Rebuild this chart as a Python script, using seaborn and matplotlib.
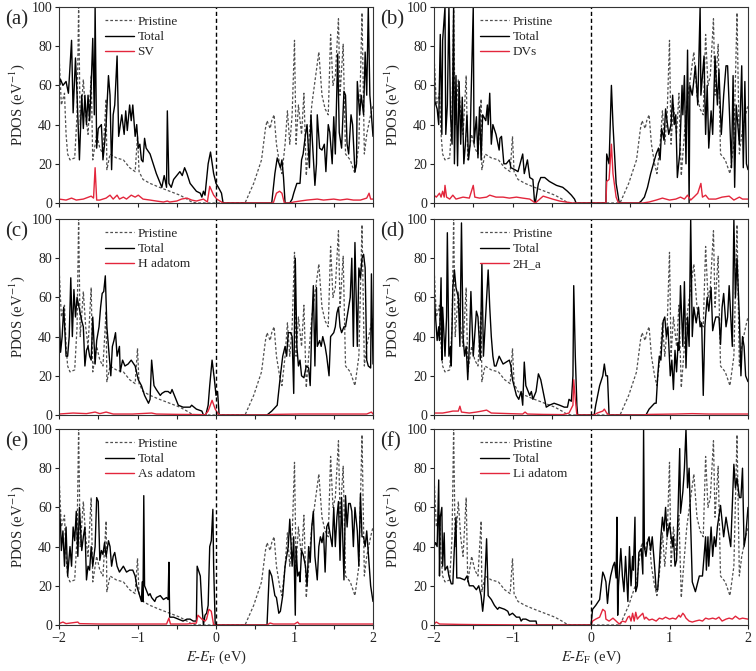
import matplotlib
matplotlib.use("Agg")
import matplotlib.pyplot as plt
import seaborn as sns

# energies (eV) and PDOS (1/eV)
pristine_e = [-2.00, -1.97, -1.93, -1.91, -1.89, -1.86, -1.80, -1.77, -1.75, -1.73, -1.69, -1.66, -1.63, -1.59, -1.57, -1.52, -1.48, -1.44, -1.40, -1.39, -1.35, -1.27, -1.18, -1.10, -1.03, -1.00, -0.98, -0.93, -0.84, -0.72, -0.59, -0.46, -0.37, -0.31, -0.25, 0.37, 0.48, 0.58, 0.63, 0.65, 0.69, 0.71, 0.74, 0.77, 0.81, 0.84, 0.88, 0.91, 0.94, 0.97, 1.00, 1.02, 1.05, 1.09, 1.12, 1.15, 1.18, 1.22, 1.31, 1.35, 1.39, 1.43, 1.46, 1.49, 1.52, 1.56, 1.58, 1.62, 1.65, 1.71, 1.77, 1.82, 1.86, 1.89, 1.92, 1.97, 2.00]
pristine_dos = [76, 50, 56, 35, 25, 22, 23, 45, 100, 40, 63, 45, 35, 65, 22, 35, 28, 25, 53, 17, 25, 23, 22, 18, 16, 34, 16, 12, 10, 8, 6, 4, 2, 0.5, 0, 0, 10, 22, 38, 42, 38, 42, 45, 30, 20, 15, 30, 47, 30, 45, 83, 30, 50, 35, 56, 14, 30, 50, 77, 55, 48, 45, 86, 60, 65, 94, 55, 81, 25, 22, 15, 30, 97, 25, 35, 45, 50]

a_total_e = [-2.00, -1.98, -1.95, -1.91, -1.88, -1.84, -1.82, -1.79, -1.77, -1.74, -1.71, -1.69, -1.67, -1.65, -1.63, -1.61, -1.59, -1.57, -1.55, -1.54, -1.52, -1.50, -1.46, -1.44, -1.42, -1.40, -1.37, -1.35, -1.33, -1.31, -1.29, -1.26, -1.24, -1.20, -1.17, -1.15, -1.13, -1.10, -1.08, -1.06, -1.03, -1.01, -0.99, -0.97, -0.95, -0.93, -0.91, -0.89, -0.84, -0.80, -0.76, -0.71, -0.69, -0.66, -0.63, -0.62, -0.60, -0.57, -0.54, -0.50, -0.46, -0.43, -0.40, -0.37, -0.33, -0.29, -0.25, -0.20, -0.18, -0.16, -0.14, -0.10, -0.07, -0.03, 0.00, 0.03, 0.07, 0.09, 0.71, 0.75, 0.78, 0.82, 0.84, 0.86, 0.88, 0.94, 0.97, 0.99, 1.03, 1.07, 1.09, 1.11, 1.14, 1.16, 1.19, 1.21, 1.23, 1.26, 1.28, 1.29, 1.32, 1.35, 1.38, 1.40, 1.43, 1.45, 1.48, 1.50, 1.52, 1.55, 1.57, 1.60, 1.63, 1.65, 1.67, 1.69, 1.72, 1.74, 1.77, 1.79, 1.80, 1.83, 1.85, 1.88, 1.90, 1.92, 1.94, 1.96, 1.97, 2.00]
a_total_dos = [60, 63, 60, 62, 56, 83, 46, 74, 55, 22, 55, 38, 55, 40, 55, 42, 60, 84, 45, 100, 28, 38, 40, 22, 30, 40, 65, 55, 17, 45, 50, 75, 34, 45, 35, 47, 37, 50, 42, 50, 34, 40, 28, 30, 22, 21, 33, 28, 25, 20, 15, 10, 8, 14, 8, 47, 10, 8, 12, 14, 16, 14, 18, 15, 10, 8, 6, 5, 3, 6, 4, 20, 26, 15, 10, 8, 5, 0, 0, 15, 23, 18, 22, 13, 0, 0, 2, 5, 10, 10, 22, 25, 35, 40, 18, 45, 30, 9, 20, 45, 28, 27, 30, 16, 40, 36, 20, 44, 25, 76, 36, 28, 57, 55, 30, 25, 45, 40, 16, 20, 62, 45, 55, 45, 77, 55, 100, 55, 50, 34]
a_sv_e = [-2.00, -1.91, -1.84, -1.78, -1.69, -1.59, -1.56, -1.54, -1.52, -1.48, -1.40, -1.35, -1.31, -1.26, -1.23, -1.18, -1.14, -1.08, -1.03, -0.99, -0.93, -0.84, -0.76, -0.67, -0.62, -0.59, -0.50, -0.44, -0.37, -0.31, -0.25, -0.16, -0.11, -0.08, -0.03, 0.01, 0.05, 0.09, 0.73, 0.77, 0.81, 0.84, 0.87, 0.94, 0.99, 1.07, 1.16, 1.29, 1.37, 1.50, 1.58, 1.67, 1.75, 1.84, 1.92, 1.95, 1.97, 2.00]
a_sv_dos = [2, 1.5, 2.5, 1.5, 2, 3.5, 2.5, 18, 1.5, 1.5, 2.5, 4, 2, 4, 2, 3, 2, 4, 3, 4, 2, 1.5, 1, 0.5, 1, 0.5, 1, 2, 2.5, 1.5, 1, 2, 0.5, 8.5, 4, 2, 1, 0, 0, 5, 6, 5, 0, 0, 0.5, 1, 1.5, 2, 1.5, 2, 1.5, 2, 1.5, 1.5, 2.5, 5, 2, 2]

b_total_e = [-2.00, -1.99, -1.96, -1.94, -1.92, -1.90, -1.89, -1.86, -1.85, -1.83, -1.81, -1.79, -1.77, -1.75, -1.74, -1.72, -1.70, -1.68, -1.66, -1.64, -1.62, -1.60, -1.58, -1.56, -1.54, -1.53, -1.50, -1.49, -1.46, -1.44, -1.42, -1.40, -1.38, -1.34, -1.32, -1.31, -1.29, -1.27, -1.25, -1.21, -1.17, -1.16, -1.14, -1.11, -1.08, -1.04, -1.02, -0.97, -0.93, -0.87, -0.85, -0.81, -0.78, -0.74, -0.72, -0.71, -0.69, -0.67, -0.64, -0.59, -0.53, -0.44, -0.36, -0.30, -0.25, -0.21, -0.19, 0.19, 0.20, 0.23, 0.26, 0.28, 0.32, 0.36, 0.61, 0.64, 0.68, 0.72, 0.76, 0.83, 0.86, 0.88, 0.90, 0.93, 0.95, 0.99, 1.02, 1.04, 1.06, 1.08, 1.10, 1.13, 1.16, 1.17, 1.19, 1.21, 1.23, 1.25, 1.26, 1.29, 1.33, 1.36, 1.39, 1.40, 1.44, 1.46, 1.48, 1.50, 1.53, 1.55, 1.58, 1.61, 1.63, 1.66, 1.69, 1.72, 1.74, 1.76, 1.79, 1.81, 1.83, 1.85, 1.89, 1.92, 1.94, 1.96, 1.98, 2.00]
b_total_dos = [80, 52, 48, 40, 86, 35, 83, 100, 35, 50, 100, 45, 30, 100, 20, 65, 19, 62, 30, 54, 20, 30, 45, 22, 30, 50, 100, 30, 44, 23, 49, 22, 45, 42, 50, 40, 56, 30, 40, 35, 27, 33, 34, 20, 20, 22, 18, 17, 16, 25, 15, 22, 13, 12, 1, 0, 5, 10, 13, 13, 11, 9, 8, 6, 4, 2, 0, 0, 25, 20, 60, 40, 10, 0, 0, 1, 3, 8, 15, 25, 28, 22, 38, 32, 48, 35, 40, 55, 40, 45, 13, 25, 60, 45, 65, 20, 78, 0, 60, 55, 70, 50, 100, 55, 75, 35, 60, 28, 47, 35, 75, 50, 68, 35, 55, 70, 70, 50, 18, 65, 8, 50, 30, 70, 18, 62, 20, 17]
b_dv_e = [-2.00, -1.97, -1.93, -1.91, -1.89, -1.87, -1.86, -1.84, -1.80, -1.76, -1.72, -1.63, -1.55, -1.50, -1.48, -1.42, -1.33, -1.29, -1.21, -1.12, -1.04, -0.95, -0.87, -0.78, -0.71, -0.68, -0.61, -0.57, -0.49, -0.40, -0.32, -0.23, 0.19, 0.20, 0.23, 0.26, 0.28, 0.32, 0.35, 0.66, 0.74, 0.83, 0.91, 1.00, 1.08, 1.14, 1.19, 1.23, 1.27, 1.31, 1.36, 1.40, 1.42, 1.46, 1.50, 1.59, 1.67, 1.76, 1.82, 1.89, 1.93, 2.00]
b_dv_dos = [4, 3, 5, 3, 6, 3, 9, 3, 2, 4, 2, 3, 2.5, 9, 3, 2.5, 3, 4, 3, 3, 2.5, 3, 2.5, 2, 0, 1, 3.5, 3, 2, 1, 0.5, 0, 0, 11, 12, 30, 15, 3, 0, 0, 0.5, 1.5, 2.5, 1.5, 2, 3, 2, 4, 1.5, 3, 5, 10, 3, 4, 2, 2, 3, 3.5, 1.5, 3, 2, 2]

c_total_e = [-2.00, -1.98, -1.96, -1.94, -1.91, -1.89, -1.87, -1.85, -1.83, -1.81, -1.79, -1.77, -1.75, -1.71, -1.69, -1.67, -1.65, -1.63, -1.61, -1.59, -1.57, -1.54, -1.52, -1.49, -1.47, -1.45, -1.43, -1.41, -1.39, -1.36, -1.34, -1.32, -1.30, -1.28, -1.26, -1.23, -1.22, -1.19, -1.16, -1.12, -1.08, -1.03, -0.99, -0.95, -0.91, -0.86, -0.84, -0.82, -0.79, -0.76, -0.71, -0.69, -0.65, -0.61, -0.58, -0.56, -0.52, -0.48, -0.42, -0.33, -0.31, -0.25, -0.18, -0.16, -0.13, -0.10, -0.08, -0.05, -0.02, 0.00, 0.02, 0.04, 0.65, 0.71, 0.78, 0.82, 0.85, 0.88, 0.90, 0.92, 0.95, 0.97, 0.99, 1.01, 1.03, 1.05, 1.07, 1.09, 1.12, 1.15, 1.18, 1.20, 1.22, 1.24, 1.26, 1.28, 1.29, 1.32, 1.34, 1.36, 1.39, 1.41, 1.44, 1.46, 1.50, 1.52, 1.54, 1.56, 1.58, 1.60, 1.63, 1.65, 1.69, 1.71, 1.73, 1.75, 1.77, 1.80, 1.82, 1.84, 1.86, 1.88, 1.90, 1.92, 1.94, 1.97, 1.98, 2.00]
c_total_dos = [55, 32, 40, 55, 30, 30, 40, 70, 40, 64, 50, 60, 56, 48, 45, 25, 33, 35, 30, 28, 50, 26, 38, 45, 55, 62, 63, 71, 45, 30, 20, 35, 38, 42, 30, 35, 22, 28, 25, 26, 28, 25, 18, 15, 10, 6, 8, 28, 15, 13, 10, 11, 12, 12, 11, 13, 9, 5, 4, 4, 5, 3, 2, 0, 0, 5, 15, 28, 18, 10, 12, 0, 0, 2, 5, 20, 30, 35, 30, 42, 42, 40, 11, 80, 35, 25, 28, 20, 19, 25, 24, 15, 45, 66, 25, 65, 35, 38, 35, 40, 35, 30, 20, 40, 42, 45, 52, 55, 45, 42, 45, 45, 55, 60, 80, 35, 88, 35, 75, 70, 80, 82, 75, 28, 25, 24, 72, 26]
c_h_e = [-2.00, -1.82, -1.65, -1.54, -1.48, -1.40, -1.31, -1.06, -0.82, -0.76, -0.46, -0.20, -0.14, -0.10, -0.05, -0.01, 0.02, 0.05, 0.65, 0.73, 1.07, 1.50, 1.92, 1.98, 2.00]
c_h_dos = [0.5, 1, 0.7, 1.5, 0.7, 1.5, 0.5, 0.5, 1, 0.5, 0.3, 0.2, 0, 2, 7.5, 3, 1, 0, 0, 0.3, 0.5, 0.5, 0.5, 1.5, 0.5]

d_total_e = [-2.00, -1.98, -1.96, -1.94, -1.93, -1.91, -1.90, -1.89, -1.86, -1.84, -1.83, -1.81, -1.79, -1.78, -1.76, -1.74, -1.72, -1.69, -1.67, -1.65, -1.63, -1.61, -1.59, -1.57, -1.55, -1.53, -1.50, -1.46, -1.44, -1.41, -1.39, -1.37, -1.33, -1.31, -1.29, -1.27, -1.25, -1.23, -1.21, -1.17, -1.12, -1.08, -1.04, -1.02, -1.00, -0.95, -0.92, -0.89, -0.87, -0.85, -0.83, -0.78, -0.76, -0.74, -0.70, -0.67, -0.64, -0.61, -0.57, -0.53, -0.47, -0.40, -0.34, -0.30, -0.28, -0.25, -0.23, -0.22, -0.20, -0.18, -0.17, 0.04, 0.06, 0.11, 0.15, 0.17, 0.19, 0.21, 0.23, 0.70, 0.74, 0.81, 0.83, 0.85, 0.87, 0.89, 0.90, 0.92, 0.94, 0.96, 0.98, 1.01, 1.03, 1.05, 1.07, 1.09, 1.11, 1.12, 1.14, 1.17, 1.19, 1.21, 1.23, 1.25, 1.27, 1.29, 1.31, 1.34, 1.37, 1.39, 1.41, 1.43, 1.45, 1.48, 1.50, 1.53, 1.55, 1.57, 1.59, 1.63, 1.65, 1.67, 1.69, 1.72, 1.74, 1.76, 1.78, 1.80, 1.82, 1.84, 1.86, 1.89, 1.91, 1.93, 1.95, 1.97, 2.00]
d_total_dos = [63, 50, 38, 45, 38, 70, 28, 55, 30, 50, 93, 30, 35, 25, 65, 74, 65, 60, 35, 98, 40, 30, 35, 18, 35, 63, 30, 53, 50, 28, 77, 30, 60, 74, 55, 40, 30, 25, 25, 30, 26, 27, 28, 25, 18, 10, 8, 12, 5, 27, 15, 10, 12, 8, 12, 21, 18, 12, 4, 5, 6, 5, 4, 4, 8, 7, 20, 66, 30, 5, 0, 0, 5, 15, 20, 26, 20, 20, 0, 0, 3, 6, 6, 20, 30, 28, 35, 48, 50, 40, 45, 20, 28, 13, 33, 22, 37, 33, 66, 35, 68, 24, 50, 35, 100, 40, 55, 47, 55, 45, 47, 10, 45, 60, 53, 65, 43, 47, 50, 50, 36, 55, 62, 45, 50, 66, 50, 35, 100, 60, 80, 50, 20, 40, 35, 20, 17]
d_2h_e = [-2.00, -1.89, -1.82, -1.76, -1.69, -1.67, -1.65, -1.55, -1.46, -1.39, -1.33, -1.27, -1.04, -0.87, -0.84, -0.81, -0.61, -0.36, -0.28, -0.23, -0.22, -0.20, -0.18, 0.04, 0.08, 0.15, 0.17, 0.20, 0.23, 0.66, 0.74, 1.08, 1.29, 1.50, 2.00]
d_2h_dos = [1, 1, 1.5, 2, 2, 4.5, 1.5, 1, 1.5, 2, 2.5, 1, 0.7, 0.5, 1.5, 0.5, 0.3, 0.2, 1, 5, 18, 8, 0, 0, 1, 2, 3, 1, 0, 0, 0.3, 0.5, 0.7, 0.5, 0.5]

e_total_e = [-2.00, -1.98, -1.97, -1.95, -1.93, -1.91, -1.89, -1.86, -1.84, -1.82, -1.80, -1.78, -1.76, -1.74, -1.71, -1.69, -1.67, -1.65, -1.63, -1.61, -1.59, -1.57, -1.54, -1.52, -1.50, -1.48, -1.46, -1.44, -1.42, -1.40, -1.37, -1.35, -1.33, -1.31, -1.29, -1.26, -1.23, -1.18, -1.14, -1.10, -1.06, -1.03, -1.01, -0.98, -0.95, -0.94, -0.93, -0.92, -0.91, -0.89, -0.86, -0.84, -0.82, -0.78, -0.76, -0.71, -0.67, -0.63, -0.61, -0.60, -0.59, -0.54, -0.48, -0.42, -0.37, -0.33, -0.29, -0.25, -0.24, -0.20, -0.18, -0.16, -0.14, -0.12, -0.10, -0.08, -0.06, -0.04, -0.03, -0.01, 0.65, 0.68, 0.71, 0.73, 0.75, 0.77, 0.80, 0.82, 0.85, 0.88, 0.90, 0.92, 0.94, 0.97, 0.99, 1.01, 1.02, 1.04, 1.06, 1.07, 1.09, 1.11, 1.14, 1.16, 1.18, 1.20, 1.22, 1.24, 1.26, 1.29, 1.31, 1.33, 1.35, 1.37, 1.39, 1.41, 1.43, 1.46, 1.48, 1.50, 1.52, 1.54, 1.56, 1.58, 1.60, 1.63, 1.65, 1.67, 1.69, 1.71, 1.73, 1.75, 1.77, 1.80, 1.82, 1.84, 1.86, 1.88, 1.90, 1.92, 1.97, 2.00]
e_total_dos = [62, 50, 38, 48, 30, 50, 25, 40, 30, 50, 43, 58, 35, 60, 38, 45, 50, 23, 30, 28, 40, 30, 40, 65, 63, 33, 38, 36, 42, 35, 43, 40, 30, 35, 37, 30, 27, 30, 27, 28, 28, 25, 20, 16, 12, 22, 12, 66, 20, 18, 15, 16, 14, 12, 14, 15, 13, 14, 13, 32, 4, 4, 3, 2, 3, 3, 2, 2, 30, 25, 10, 0, 5, 6, 10, 40, 43, 59, 30, 0, 0, 28, 25, 20, 15, 14, 6, 7, 15, 30, 35, 40, 54, 30, 45, 5, 40, 25, 27, 22, 38, 36, 30, 20, 40, 32, 50, 58, 35, 23, 40, 45, 42, 47, 27, 50, 52, 45, 40, 60, 40, 55, 63, 33, 65, 23, 66, 50, 62, 62, 58, 40, 60, 48, 30, 67, 45, 45, 40, 48, 20, 12]
e_as_e = [-2.00, -1.95, -1.91, -1.76, -1.74, -1.48, -1.06, -0.63, -0.60, -0.58, -0.37, -0.25, -0.23, -0.18, -0.14, -0.12, -0.09, -0.06, -0.03, 0.65, 0.69, 0.73, 1.00, 1.04, 1.06, 2.00]
e_as_dos = [0.7, 1.5, 0.7, 1.5, 0.7, 0.5, 0.5, 0.5, 3.5, 0.5, 0.5, 1, 5, 3, 2, 3, 8, 7, 0, 0, 1, 0.5, 0.5, 1.5, 0.5, 0.5]

f_total_e = [-2.00, -1.98, -1.96, -1.94, -1.93, -1.92, -1.90, -1.89, -1.87, -1.86, -1.83, -1.81, -1.78, -1.76, -1.74, -1.72, -1.71, -1.67, -1.61, -1.58, -1.55, -1.50, -1.46, -1.43, -1.40, -1.38, -1.36, -1.33, -1.31, -1.27, -1.23, -1.19, -1.17, -1.10, -1.06, -1.04, -1.00, -0.95, -0.91, -0.89, -0.87, -0.83, -0.78, -0.74, -0.70, -0.69, 0.00, 0.02, 0.06, 0.11, 0.15, 0.17, 0.19, 0.21, 0.23, 0.25, 0.28, 0.30, 0.32, 0.33, 0.34, 0.35, 0.38, 0.40, 0.42, 0.44, 0.47, 0.49, 0.51, 0.53, 0.54, 0.56, 0.57, 0.59, 0.61, 0.64, 0.66, 0.67, 0.68, 0.70, 0.72, 0.74, 0.76, 0.78, 0.81, 0.83, 0.85, 0.87, 0.89, 0.91, 0.93, 0.95, 0.97, 1.00, 1.02, 1.04, 1.05, 1.07, 1.09, 1.11, 1.13, 1.14, 1.17, 1.19, 1.21, 1.23, 1.25, 1.27, 1.29, 1.33, 1.38, 1.42, 1.46, 1.47, 1.49, 1.50, 1.53, 1.55, 1.57, 1.59, 1.61, 1.65, 1.69, 1.72, 1.76, 1.78, 1.82, 1.84, 1.86, 1.89, 1.91, 1.93, 1.95, 1.97, 2.00]
f_total_dos = [40, 42, 40, 74, 25, 55, 60, 30, 47, 28, 30, 25, 21, 21, 40, 55, 24, 24, 23, 25, 20, 20, 18, 20, 15, 7, 15, 44, 15, 13, 10, 8, 9, 8, 7, 5, 6, 4, 4, 2, 3, 3, 2, 2, 2, 0, 0, 8, 10, 13, 27, 25, 22, 11, 20, 25, 30, 32, 24, 55, 5, 20, 39, 25, 17, 35, 12, 40, 20, 35, 28, 55, 17, 20, 37, 39, 26, 100, 40, 35, 42, 45, 38, 45, 30, 18, 18, 30, 45, 55, 48, 60, 45, 52, 45, 40, 45, 30, 33, 60, 90, 57, 68, 80, 100, 70, 80, 50, 22, 17, 25, 25, 45, 28, 45, 30, 50, 35, 45, 40, 50, 61, 45, 55, 45, 40, 82, 70, 75, 65, 65, 80, 40, 45, 60]
f_li_e = [-2.00, -1.97, -1.93, -1.67, -1.46, -1.04, -0.70, 0.00, 0.02, 0.06, 0.11, 0.15, 0.18, 0.19, 0.23, 0.28, 0.32, 0.36, 0.40, 0.44, 0.47, 0.49, 0.51, 0.53, 0.55, 0.57, 0.59, 0.61, 0.66, 0.68, 0.70, 0.74, 0.78, 0.83, 0.87, 0.91, 0.95, 1.00, 1.04, 1.08, 1.12, 1.14, 1.17, 1.19, 1.21, 1.25, 1.29, 1.33, 1.38, 1.42, 1.46, 1.50, 1.55, 1.59, 1.63, 1.67, 1.72, 1.76, 1.80, 1.84, 1.89, 1.93, 2.00]
f_li_dos = [0.5, 1.5, 0.5, 0.3, 0.2, 0.1, 0, 0, 2, 3, 4, 8, 7, 3, 2, 3.5, 2, 0.5, 2, 1.5, 4, 4.5, 2, 6, 2, 6.5, 3, 4, 6, 3, 4, 2.5, 3, 2, 3.5, 3, 4, 3, 3.5, 3, 5, 4, 6, 5, 3.5, 2, 1.5, 2, 2.5, 2, 3.5, 3, 3.5, 3, 4, 2, 3, 3.5, 3, 4.5, 3, 3.5, 3]

panel_tags = ["(a)", "(b)", "(c)", "(d)", "(e)", "(f)"]
defect_names = ["SV", "DVs", "H adatom", "2H_a", "As adatom", "Li adatom"]
total_series = [(a_total_e, a_total_dos), (b_total_e, b_total_dos), (c_total_e, c_total_dos),
                (d_total_e, d_total_dos), (e_total_e, e_total_dos), (f_total_e, f_total_dos)]
defect_series = [(a_sv_e, a_sv_dos), (b_dv_e, b_dv_dos), (c_h_e, c_h_dos),
                 (d_2h_e, d_2h_dos), (e_as_e, e_as_dos), (f_li_e, f_li_dos)]

sns.set_style("ticks")
plt.rcParams["font.family"] = ["Liberation Serif", "DejaVu Serif"]
plt.rcParams["mathtext.fontset"] = "stix"

W, H = 756, 671
fig = plt.figure(figsize=(W / 100, H / 100), dpi=100)

col_left = [59, 434]
row_top = [7, 219, 429]
ax_w, ax_h = 314, 196
red = "#e3263c"

for i in range(6):
    r, c = divmod(i, 2)
    left, top = col_left[c], row_top[r]
    ax = fig.add_axes([left / W, 1 - (top + ax_h) / H, ax_w / W, ax_h / H])

    sns.lineplot(x=pristine_e, y=pristine_dos, ax=ax, color="#505050", lw=0.9,
                 linestyle=(0, (2.2, 1.6)), sort=False, estimator=None, label="Pristine")
    te, td = total_series[i]
    sns.lineplot(x=te, y=td, ax=ax, color="black", lw=1.0,
                 sort=False, estimator=None, label="Total")
    de, dd = defect_series[i]
    sns.lineplot(x=de, y=dd, ax=ax, color=red, lw=1.0,
                 sort=False, estimator=None, label=defect_names[i])
    ax.axvline(0, color="black", lw=1.0, linestyle=(0, (3, 2)))

    ax.set_xlim(-2, 2)
    ax.set_ylim(0, 100)
    ax.set_yticks([0, 20, 40, 60, 80, 100])
    ax.set_xticks([-2, -1, 0, 1, 2])
    ax.set_xticks([-1.5, -0.5, 0.5, 1.5], minor=True)
    ax.tick_params(which="both", direction="out", length=3, width=0.8,
                   labelsize=10, pad=2, colors="#222222")
    for sp in ax.spines.values():
        sp.set_linewidth(0.8)
        sp.set_color("#333333")

    ax.set_ylabel("PDOS (eV$^{-1}$)", fontsize=10.5, labelpad=3)
    if r == 2:
        ax.set_xlabel("$E$-$E_{\\mathrm{F}}$ (eV)", fontsize=10.5, labelpad=3)
    else:
        ax.set_xlabel("")
        ax.tick_params(labelbottom=False)

    ax.legend(loc="upper left", bbox_to_anchor=(0.145, 0.955), frameon=False,
              fontsize=9.5, handlelength=2.2, handletextpad=0.3,
              labelspacing=0.22, borderaxespad=0, borderpad=0)

    fig.text((left - 54) / W, 1 - (top + 13) / H, panel_tags[i],
             fontsize=15, ha="left", va="center")

fig.savefig("out.png", dpi=100)
